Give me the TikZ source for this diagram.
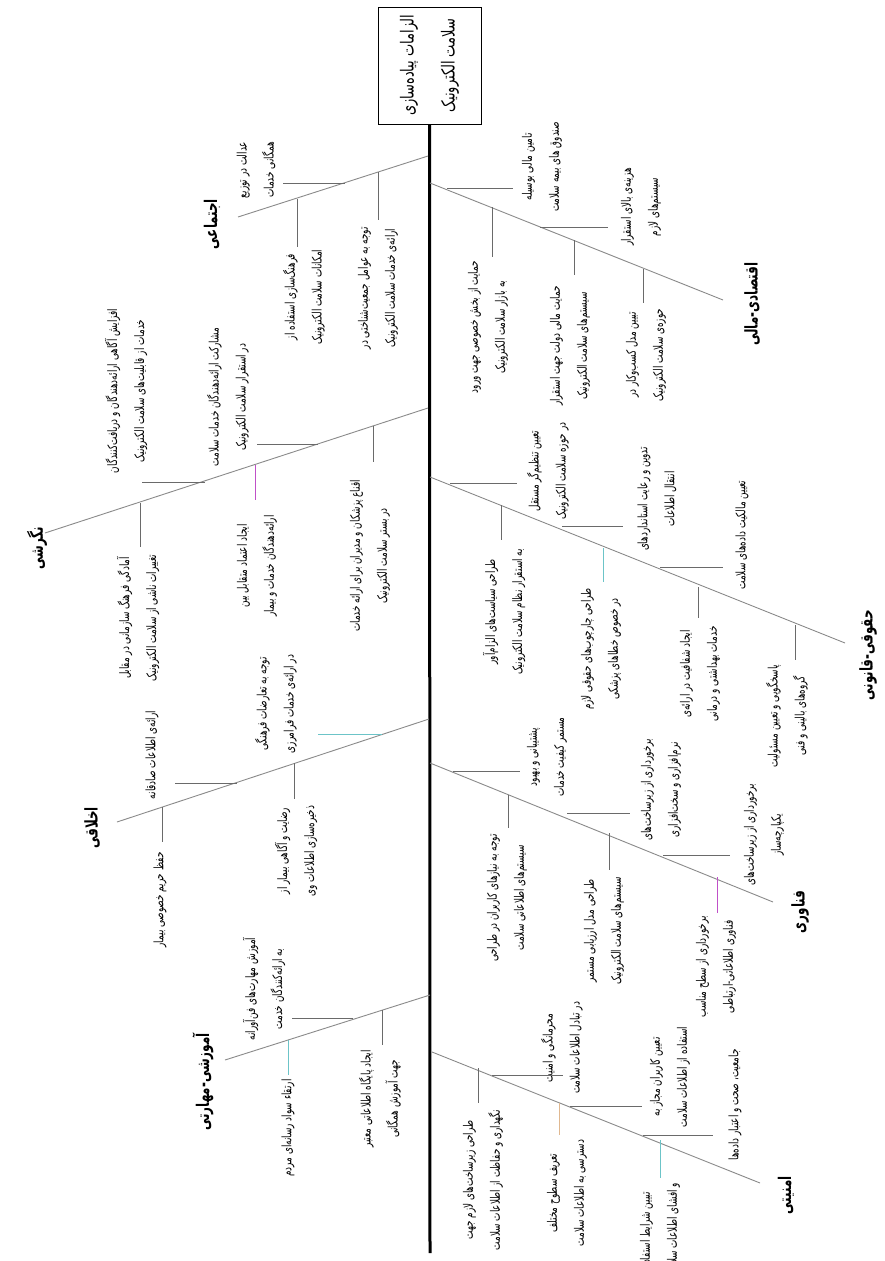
\documentclass[tikz,border=0pt]{standalone}
\usepackage{fontspec}
\TeXXeTstate=1
\newfontfamily\fa[Script=Arabic,FakeStretch=0.68]{DejaVu Sans}
\newfontfamily\facat[Script=Arabic,FakeStretch=0.68]{DejaVu Sans}
\newfontfamily\fahead[Script=Arabic,FakeStretch=0.72]{DejaVu Sans}
\newcommand\rl[1]{\beginR #1\endR}
\definecolor{bonegray}{HTML}{8A8A8A}
\definecolor{tickgray}{HTML}{6A6A6A}
\definecolor{tkmag}{HTML}{C050C8}
\definecolor{tkteal}{HTML}{6CC4C8}
\definecolor{tkorange}{HTML}{E0B890}
\tikzset{
  spine/.style={line width=3pt, black},
  bone/.style={draw=bonegray, line width=0.9pt},
  tick/.style={draw=tickgray, line width=0.9pt},
  item/.style={rotate=90, align=center, inner sep=0pt, font=\fa\fontsize{13}{27}\selectfont},
  cat/.style={rotate=90, inner sep=0pt, font=\facat\bfseries\fontsize{17.5}{20}\selectfont},
  headbox/.style={draw, line width=0.9pt, rotate=90, align=center, inner sep=0pt,
    minimum width=117pt, minimum height=103pt, font=\fahead\fontsize{18}{41}\selectfont}
}
\newcommand\fbitem[6]{%
  \coordinate (#1s) at #2;
  \coordinate (#1e) at #3;
  \node[item] (#1) at #4 {#5};
  \draw[tick,#6] (#1s) -- (#1e);
}
\newcommand\fbcat[5]{%
  \coordinate (#1s) at #2;
  \coordinate (#1e) at #3;
  \node[cat] (#1) at #4 {\rl{#5}};
  \draw[bone] (#1s) -- (#1e);
}
\begin{document}
\begin{tikzpicture}[x=1pt,y=-1pt]
\fill[white] (0,0) rectangle (884,1261);
\useasboundingbox (0,0) rectangle (884,1261);

% head and spine
\node[headbox] (head) at (429.5,65.5) {\rl{الزامات پیاده‌سازی}\\\rl{سلامت الکترونیک}};
\coordinate (spend) at (430,1253);
\draw[spine] (head.west) -- (spend);

% ---------- left side ----------
\fbcat{A}{(428,156)}{(238,217)}{(212,224)}{اجتماعی}
\fbitem{a1}{(283,183)}{(345,183)}{(256,170)}{\rl{عدالت در توزیع}\\\rl{همگانی خدمات}}{}
\fbitem{a2}{(297,199)}{(297,247)}{(304,297)}{\rl{فرهنگ‌سازی استفاده از}\\\rl{امکانات سلامت الکترونیک}}{}
\fbitem{a3}{(378,172)}{(378,220)}{(378,288)}{\rl{توجه به عوامل جمعیت‌شناختی در}\\\rl{ارائه‌ی خدمات سلامت الکترونیک}}{}

\fbcat{B}{(428,408)}{(45,533)}{(37,548)}{نگرشی}
\fbitem{b1}{(142,482)}{(205,482)}{(126,391)}{\rl{افزایش آگاهی ارائه‌دهندگان و دریافت‌کنندگان}\\\rl{خدمات از قابلیت‌های سلامت الکترونیک}}{}
\fbitem{b2}{(257,444)}{(318,444)}{(228,397)}{\rl{مشارکت ارائه‌دهندگان خدمات سلامت}\\\rl{در استقرار سلامت الکترونیک}}{}
\fbitem{b3}{(140,503)}{(140,547)}{(138,618)}{\rl{آمادگی فرهنگ سازمانی در مقابل}\\\rl{تغییرات ناشی از سلامت الکترونیک}}{}
\fbitem{b4}{(255,465)}{(255,500)}{(257,566)}{\rl{ایجاد اعتماد متقابل بین}\\\rl{ارائه‌دهندگان خدمات و بیمار}}{tkmag}
\fbitem{b5}{(373,426)}{(373,462)}{(370,556)}{\rl{اقناع پزشکان و مدیران برای ارائه خدمات}\\\rl{در بستر سلامت الکترونیک}}{}

\fbcat{C}{(429,719)}{(117,822)}{(92,828)}{اخلاقی}
\fbitem{c1}{(175,783)}{(237,783)}{(152,755)}{\rl{ارائه‌ی اطلاعات صادقانه}}{}
\fbitem{c2}{(318,734)}{(382,734)}{(276,704)}{\rl{توجه به تعارضات فرهنگی}\\\rl{در ارائه‌ی خدمات فرامرزی}}{tkteal}
\fbitem{c3}{(162,807)}{(162,842)}{(160,900)}{\rl{حفظ حریم خصوصی بیمار}}{}
\fbitem{c4}{(294,763)}{(294,799)}{(296,851)}{\rl{رضایت و آگاهی بیمار از}\\\rl{ذخیره‌سازی اطلاعات وی}}{}

\fbcat{D}{(430,995)}{(225,1060)}{(203,1082)}{آموزشی-مهارتی}
\fbitem{d1}{(292,1018)}{(353,1018)}{(264,989)}{\rl{آموزش مهارت‌های فن‌آورانه}\\\rl{به ارائه‌کنندگان خدمت}}{}
\fbitem{d2}{(288,1040)}{(288,1075)}{(288,1128)}{\rl{ارتقاء سواد رسانه‌ای مردم}}{tkteal}
\fbitem{d3}{(382,1010)}{(382,1045)}{(380,1099)}{\rl{ایجاد پایگاه اطلاعاتی معتبر}\\\rl{جهت آموزش همگانی}}{}

% ---------- right side ----------
\fbcat{E}{(430,183)}{(723,300)}{(752,304)}{اقتصادی-مالی}
\fbitem{e1}{(447,188)}{(513,188)}{(542,167)}{\rl{تامین مالی بوسیله}\\\rl{صندوق های بیمه سلامت}}{}
\fbitem{e2}{(540,227)}{(608,227)}{(641,207)}{\rl{هزینه‌ی بالای استقرار}\\\rl{سیستم‌های لازم}}{}
\fbitem{e3}{(492,207)}{(492,257)}{(488,327)}{\rl{حمایت از بخش خصوصی جهت ورود}\\\rl{به بازار سلامت الکترونیک}}{}
\fbitem{e4}{(574,240)}{(574,275)}{(570,346)}{\rl{حمایت مالی دولت جهت استقرار}\\\rl{سیستم‌های سلامت الکترونیک}}{}
\fbitem{e5}{(643,269)}{(643,303)}{(646,355)}{\rl{تبیین مدل کسب‌وکار در}\\\rl{حوزه‌ی سلامت الکترونیک}}{}

\fbcat{F}{(430,477)}{(845,643)}{(868,655)}{حقوقی-قانونی}
\fbitem{f1}{(450,483)}{(517,483)}{(548,471)}{\rl{تعیین تنظیم‌گر مستقل}\\\rl{در حوزه سلامت الکترونیک}}{}
\fbitem{f2}{(562,526)}{(623,526)}{(657,499)}{\rl{تدوین و رعایت استانداردهای}\\\rl{انتقال اطلاعات}}{}
\fbitem{f3}{(660,567)}{(723,567)}{(742,535)}{\rl{تعیین مالکیت داده‌های سلامت}}{}
\fbitem{f4}{(501,505)}{(501,540)}{(504,612)}{\rl{طراحی سیاست‌های الزام‌آور}\\\rl{به استقرار نظام سلامت الکترونیک}}{}
\fbitem{f5}{(603,548)}{(603,582)}{(601,649)}{\rl{طراحی چارچوب‌های حقوقی لازم}\\\rl{در خصوص خطاهای پزشکی}}{tkteal}
\fbitem{f6}{(698,587)}{(698,618)}{(700,674)}{\rl{ایجاد شفافیت در ارائه‌ی}\\\rl{خدمات بهداشتی و درمانی}}{}
\fbitem{f7}{(795,625)}{(795,660)}{(787,716)}{\rl{پاسخگویی و تعیین مسئولیت}\\\rl{گروه‌های بالینی و فنی}}{}

\fbcat{G}{(430,763)}{(773,902)}{(800,912)}{فناوری}
\fbitem{g1}{(453,771)}{(520,771)}{(547,757)}{\rl{پشتیبانی و بهبود}\\\rl{مستمر کیفیت خدمات}}{}
\fbitem{g2}{(567,813)}{(630,813)}{(661,790)}{\rl{برخورداری از زیرساخت‌های}\\\rl{نرم‌افزاری و سخت‌افزاری}}{}
\fbitem{g3}{(663,855)}{(730,855)}{(764,835)}{\rl{برخورداری از زیرساخت‌های}\\\rl{یکپارچه‌ساز}}{}
\fbitem{g4}{(508,795)}{(508,828)}{(507,898)}{\rl{توجه به نیازهای کاربران در طراحی}\\\rl{سیستم‌های اطلاعاتی سلامت}}{}
\fbitem{g5}{(609,833)}{(609,870)}{(604,931)}{\rl{طراحی مدل ارزیابی مستمر}\\\rl{سیستم‌های سلامت الکترونیک}}{}
\fbitem{g6}{(717,877)}{(717,913)}{(716,967)}{\rl{برخورداری از سطح مناسب}\\\rl{فناوری اطلاعاتی-ارتباطی}}{tkmag}

\fbcat{H}{(432,1052)}{(760,1183)}{(786,1195)}{امنیتی}
\fbitem{h1}{(492,1075)}{(563,1075)}{(562,1048)}{\rl{محرمانگی و امنیت}\\\rl{در تبادل اطلاعات سلامت}}{}
\fbitem{h2}{(570,1106)}{(642,1106)}{(670,1077)}{\rl{تعیین کاربران مجاز به}\\\rl{استفاده از اطلاعات سلامت}}{}
\fbitem{h3}{(643,1135)}{(713,1135)}{(735,1105)}{\rl{جامعیت، صحت و اعتبار داده‌ها}}{}
\fbitem{h4}{(478,1068)}{(478,1103)}{(483,1180)}{\rl{طراحی زیرساخت‌های لازم جهت}\\\rl{نگهداری و حفاظت از اطلاعات سلامت}}{}
\fbitem{h5}{(559,1103)}{(559,1135)}{(567,1193)}{\rl{تعریف سطوح مختلف}\\\rl{دسترسی به اطلاعات سلامت}}{tkorange}
\coordinate (h6s) at (660,1140);
\coordinate (h6e) at (660,1178);
\node[item, anchor=east] (h6) at (660,1183) {\rl{تبیین شرایط استفاده}\\\rl{و افشای اطلاعات سلامت}};
\draw[tick,tkteal] (h6s) -- (h6e);
\end{tikzpicture}
\end{document}
